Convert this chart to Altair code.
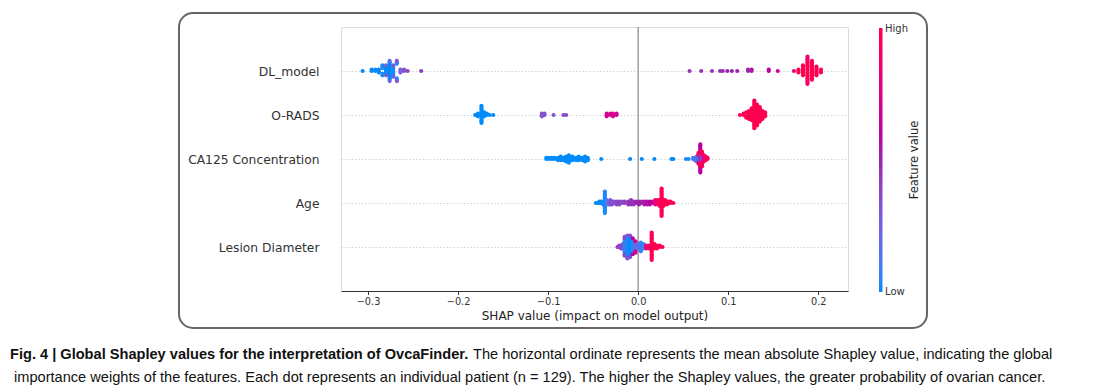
import json
import altair as alt
import numpy as np
import pandas as pd

FEATURES = ["DL_model", "O-RADS", "CA125 Concentration", "Age", "Lesion Diameter"]
X_TICKS = [-0.3, -0.2, -0.1, 0.0, 0.1, 0.2]

# SHAP value, number of patients at that value, normalised feature value (0 = low, 1 = high)
DL_SHAP = [-0.306, -0.296, -0.292, -0.288, -0.284, -0.280, -0.280, -0.276, -0.276, -0.272, -0.272,
           -0.268, -0.268, -0.264, -0.260, -0.256, -0.241,
           0.057, 0.070, 0.082, 0.091, 0.094, 0.099, 0.104, 0.110, 0.122, 0.126, 0.145, 0.155, 0.173,
           0.178, 0.183, 0.188, 0.188, 0.193, 0.193, 0.198, 0.203]
DL_COUNT = [1, 2, 2, 3, 5, 6, 2, 13, 2, 7, 2, 4, 2, 3, 2, 1, 1,
            1, 1, 1, 1, 1, 1, 1, 1, 2, 2, 2, 1, 1,
            3, 8, 17, 3, 12, 2, 7, 3]
DL_FVAL = [0.0, 0.0, 0.0, 0.0, 0.02, 0.0, 0.28, 0.0, 0.22, 0.02, 0.3, 0.05, 0.32, 0.25, 0.36, 0.4, 0.42,
           0.45, 0.45, 0.45, 0.48, 0.48, 0.5, 0.5, 0.5, 0.5, 0.55, 0.62, 0.7, 0.85,
           1.0, 1.0, 1.0, 0.85, 1.0, 0.9, 1.0, 1.0]

OR_SHAP = [-0.181, -0.178, -0.174, -0.171, -0.168, -0.165, -0.161,
           -0.107, -0.104, -0.094, -0.083, -0.080,
           -0.035, -0.031, -0.028, -0.024,
           0.113, 0.117, 0.120, 0.123, 0.126, 0.129, 0.132, 0.135, 0.138, 0.141]
OR_COUNT = [1, 3, 14, 4, 2, 1, 1,
            3, 2, 1, 1, 1,
            3, 2, 3, 2,
            1, 2, 3, 7, 10, 22, 17, 12, 7, 4]
OR_FVAL = [0.0, 0.0, 0.0, 0.0, 0.0, 0.0, 0.0,
           0.33, 0.33, 0.33, 0.36, 0.36,
           0.7, 0.7, 0.7, 0.7,
           1.0, 1.0, 1.0, 1.0, 1.0, 1.0, 1.0, 1.0, 1.0, 1.0]

CA_SHAP = [-0.102, -0.099, -0.096, -0.093, -0.089, -0.086, -0.083, -0.080, -0.077, -0.073, -0.069,
           -0.066, -0.062, -0.059, -0.056,
           -0.041, -0.009, 0.004, 0.018, 0.037, 0.039, 0.053, 0.056,
           0.061, 0.063, 0.065, 0.067, 0.067, 0.069, 0.069, 0.069, 0.071, 0.071, 0.073, 0.075, 0.077]
CA_COUNT = [2, 2, 2, 2, 3, 4, 3, 5, 7, 4, 3, 4, 3, 5, 3,
            1, 1, 1, 1, 1, 1, 1, 1,
            2, 3, 5, 5, 5, 8, 8, 8, 6, 7, 6, 4, 2]
CA_FVAL = [0.0, 0.0, 0.0, 0.0, 0.0, 0.0, 0.0, 0.0, 0.0, 0.0, 0.0, 0.0, 0.0, 0.0, 0.0,
           0.0, 0.0, 0.0, 0.0, 0.0, 0.0, 0.02, 0.02,
           0.05, 0.1, 0.25, 0.05, 0.9, 0.45, 1.0, 0.6, 0.35, 0.95, 0.85, 0.9, 1.0]

AGE_SHAP = [-0.047, -0.045, -0.043, -0.041, -0.039, -0.037, -0.035, -0.033, -0.031, -0.029, -0.027,
            -0.024, -0.021, -0.018, -0.015, -0.011, -0.008, -0.005, -0.002, 0.001, 0.004, 0.007,
            0.010, 0.013, 0.016, 0.019, 0.022, 0.024, 0.026, 0.028, 0.030, 0.032, 0.034, 0.036, 0.039]
AGE_COUNT = [1, 1, 2, 2, 3, 16, 4, 3, 4, 3, 2, 3, 3, 2, 2, 3, 4, 3, 2, 3, 2, 3,
             3, 3, 2, 4, 4, 5, 20, 5, 4, 3, 2, 2, 1]
AGE_FVAL = [0.0, 0.0, 0.0, 0.0, 0.02, 0.02, 0.1, 0.2, 0.3, 0.35, 0.35, 0.4, 0.4, 0.35, 0.4, 0.45,
            0.45, 0.45, 0.5, 0.5, 0.5, 0.55, 0.55, 0.6, 0.65, 0.8, 0.9, 0.95, 1.0, 1.0, 1.0, 1.0,
            1.0, 1.0, 1.0]

LES_SHAP = [-0.023, -0.021, -0.019, -0.017, -0.015, -0.015, -0.012, -0.012, -0.009, -0.009, -0.006,
            -0.006, -0.003, -0.003, 0.000, 0.003, 0.006, 0.009, 0.012, 0.015, 0.018, 0.021, 0.024, 0.027]
LES_COUNT = [1, 2, 3, 4, 10, 4, 14, 3, 14, 2, 10, 2, 6, 3, 4, 7, 4, 3, 3, 20, 4, 3, 2, 1]
LES_FVAL = [0.4, 0.4, 0.38, 0.35, 0.05, 0.4, 0.02, 0.3, 0.0, 0.35, 0.05, 0.6, 0.15, 0.7, 0.2, 0.05,
            0.1, 0.8, 0.9, 1.0, 1.0, 1.0, 1.0, 1.0]

SERIES = [(DL_SHAP, DL_COUNT, DL_FVAL), (OR_SHAP, OR_COUNT, OR_FVAL), (CA_SHAP, CA_COUNT, CA_FVAL),
          (AGE_SHAP, AGE_COUNT, AGE_FVAL), (LES_SHAP, LES_COUNT, LES_FVAL)]

CAPTION_BOLD = "Fig. 4 | Global Shapley values for the interpretation of OvcaFinder."
CAPTION_1 = "The horizontal ordinate represents the mean absolute Shapley value, indicating the global"
CAPTION_2 = ("importance weights of the features. Each dot represents an individual patient (n = 129). "
             "The higher the Shapley values, the greater probability of ovarian cancer.")


def beeswarm(values, nbins=100, row_height=0.4):
    """Deterministic version of the shap summary-plot stacking of points."""
    v = np.asarray(values, dtype=float)
    quant = np.round(nbins * (v - v.min()) / (v.max() - v.min() + 1e-8))
    order = np.argsort(quant, kind="stable")
    ys = np.zeros(len(v))
    layer, last = 0, -1
    for ind in order:
        if quant[ind] != last:
            layer = 0
        ys[ind] = np.ceil(layer / 2) * ((layer % 2) * 2 - 1)
        layer += 1
        last = quant[ind]
    ys *= 0.9 * (row_height / np.max(ys + 1))
    return ys


records = []
for i, (s, c, f) in enumerate(SERIES):
    shap = np.repeat(s, c)
    fv = np.repeat(f, c)
    jit = beeswarm(shap)
    for a, b, j in zip(shap, fv, jit):
        records.append({"feature": FEATURES[i], "shap": float(a), "fval": float(b),
                        "ypos": float(i - j)})
df = pd.DataFrame(records)

FONT = "DejaVu Sans"
label_expr = json.dumps(FEATURES) + "[datum.value]"

xscale = alt.Scale(domain=[-0.33, 0.233], nice=False, zero=False)
yscale = alt.Scale(domain=[-1, 5], reverse=True, nice=False, zero=False)
cscale = alt.Scale(domain=[0, 0.5, 1], range=["#008bfb", "#9b24ad", "#ff0051"], interpolate="hcl")

xaxis = alt.Axis(values=X_TICKS, format=".1f", title="SHAP value (impact on model output)",
                 titleFont=FONT, titleFontSize=12, titleFontWeight="normal", titleColor="#222",
                 titlePadding=4, labelFont=FONT, labelFontSize=9.8, labelColor="#333",
                 labelPadding=2, tickSize=3.5, tickColor="#333", domainColor="#333",
                 domainWidth=1, grid=False)
yaxis = alt.Axis(values=[0, 1, 2, 3, 4], labelExpr=label_expr, title=None, labelFont=FONT,
                 labelFontSize=12.3, labelColor="#333", labelPadding=22, ticks=False,
                 domain=False, grid=True, gridColor="#c8c8c8", gridDash=[1.2, 2.2], gridWidth=1)

zero_rule = alt.Chart(pd.DataFrame({"z": [0.0]})).mark_rule(color="#a0a0a0", strokeWidth=1.5).encode(
    x=alt.X("z:Q", scale=xscale, axis=xaxis)
)

points = alt.Chart(df).mark_circle(size=17, opacity=1).encode(
    x=alt.X("shap:Q", scale=xscale, axis=xaxis),
    y=alt.Y("ypos:Q", scale=yscale, axis=yaxis),
    color=alt.Color("fval:Q", scale=cscale, legend=alt.Legend(
        orient="none", legendX=538, legendY=1, direction="vertical", gradientLength=264,
        gradientThickness=3.5, gradientStrokeWidth=0, title=None, values=[0, 1],
        labelExpr="''", labelFontSize=1, padding=0)),
)

one = pd.DataFrame({"k": [0]})

box = alt.Chart(one).mark_rect(fillOpacity=0, stroke="#666666", strokeWidth=2, cornerRadius=14).encode(
    x=alt.value(-162), x2=alt.value(586), y=alt.value(-14), y2=alt.value(301)
)

cb_title = alt.Chart(one).mark_text(text="Feature value", font=FONT, fontSize=11.5, color="#222",
                                    angle=270, align="center", baseline="middle").encode(
    x=alt.value(574), y=alt.value(133)
)
cb_high = alt.Chart(one).mark_text(text="High", font=FONT, fontSize=10, color="#333",
                                   align="left", baseline="middle").encode(
    x=alt.value(544), y=alt.value(1.5)
)
cb_low = alt.Chart(one).mark_text(text="Low", font=FONT, fontSize=10, color="#333",
                                  align="left", baseline="middle").encode(
    x=alt.value(544), y=alt.value(265)
)

CAP_FONT = "Liberation Sans"
CAP_SIZE = 14.6
cap_bold = alt.Chart(one).mark_text(text=CAPTION_BOLD, font=CAP_FONT, fontSize=CAP_SIZE,
                                    fontWeight="bold", color="#111", align="left",
                                    baseline="middle").encode(
    x=alt.value(-331), y=alt.value(328)
)
cap_1 = alt.Chart(one).mark_text(text=CAPTION_1, font=CAP_FONT, fontSize=CAP_SIZE, color="#111",
                                 align="left", baseline="middle").encode(
    x=alt.value(132), y=alt.value(328)
)
cap_2 = alt.Chart(one).mark_text(text=CAPTION_2, font=CAP_FONT, fontSize=CAP_SIZE, color="#111",
                                 align="left", baseline="middle").encode(
    x=alt.value(-327), y=alt.value(351)
)

chart = alt.layer(zero_rule, points, box, cb_title, cb_high, cb_low, cap_bold, cap_1, cap_2).properties(
    width=507, height=264,
    autosize=alt.AutoSizeParams(type="none"),
    padding={"left": 333, "top": 19, "right": 243, "bottom": 100},
).configure_view(strokeWidth=0).configure(background="white")

chart.save("out.html", embed_options={"renderer": "svg", "actions": False})
